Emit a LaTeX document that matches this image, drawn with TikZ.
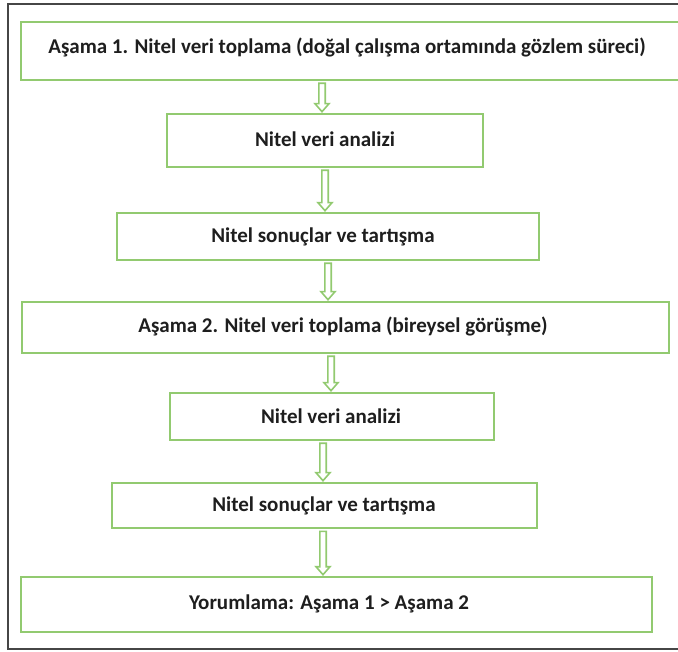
\documentclass[tikz,border=0pt]{standalone}
\usepackage{fontspec}
\setmainfont{Carlito}
\usetikzlibrary{calc}
\definecolor{boxgreen}{RGB}{146,202,112}
\definecolor{framegray}{RGB}{70,70,70}
\definecolor{txt}{RGB}{30,30,30}
\tikzset{
  stepbox/.style={draw=boxgreen, line width=2.6pt, fill=white, rectangle, inner sep=0pt},
  lbl/.style={font=\bfseries\fontsize{21}{24}\selectfont, text=txt, inner sep=0pt},
  flowarrow/.style={draw=boxgreen, line width=1.6pt, fill=white, line join=miter}
}
\newcommand{\flowarr}[3]{%
  \draw[flowarrow] let \p1=(#1.south), \p2=(#2.north) in
    ({#3pt-3.2pt},{\y1-2pt}) -- ({#3pt-3.2pt},{\y2+9pt}) -- ({#3pt-7pt},{\y2+9pt}) --
    ({#3pt},{\y2+1pt}) -- ({#3pt+7pt},{\y2+9pt}) -- ({#3pt+3.2pt},{\y2+9pt}) --
    ({#3pt+3.2pt},{\y1-2pt}) -- cycle;}
\begin{document}
\begin{tikzpicture}[x=1pt,y=-1pt]
\useasboundingbox (0,0) rectangle (678,652);
\fill[white] (0,0) rectangle (678,652);
\clip (0,0) rectangle (678,652);
\draw[framegray, line width=1.5pt] (8,4) rectangle (700,649);
% boxes
\node[stepbox, minimum width=669pt, minimum height=58pt] (b1) at (355.5,51) {};
\node[lbl] (t1) at (347,47) {Aşama 1. Nitel veri toplama (doğal çalışma ortamında gözlem süreci)};
\node[stepbox, minimum width=316pt, minimum height=53pt] (b2) at (325,140.5) {};
\node[lbl] (t2) at (325,139) {Nitel veri analizi};
\node[stepbox, minimum width=422pt, minimum height=47pt] (b3) at (328,236.5) {};
\node[lbl] (t3) at (323,237) {Nitel sonuçlar ve tartışma};
\node[stepbox, minimum width=647pt, minimum height=51pt] (b4) at (345.5,327.5) {};
\node[lbl] (t4) at (343,326) {Aşama 2. Nitel veri toplama (bireysel görüşme)};
\node[stepbox, minimum width=324pt, minimum height=47pt] (b5) at (332,416.5) {};
\node[lbl] (t5) at (331,416) {Nitel veri analizi};
\node[stepbox, minimum width=425pt, minimum height=45pt] (b6) at (324.5,505.5) {};
\node[lbl] (t6) at (324,506) {Nitel sonuçlar ve tartışma};
\node[stepbox, minimum width=631pt, minimum height=55pt] (b7) at (336.5,604.5) {};
\node[lbl] (t7) at (329,604) {Yorumlama: Aşama 1 > Aşama 2};
% arrows
\flowarr{b1}{b2}{322}
\flowarr{b2}{b3}{325}
\flowarr{b3}{b4}{328}
\flowarr{b4}{b5}{331}
\flowarr{b5}{b6}{323}
\flowarr{b6}{b7}{323}
\end{tikzpicture}
\end{document}
